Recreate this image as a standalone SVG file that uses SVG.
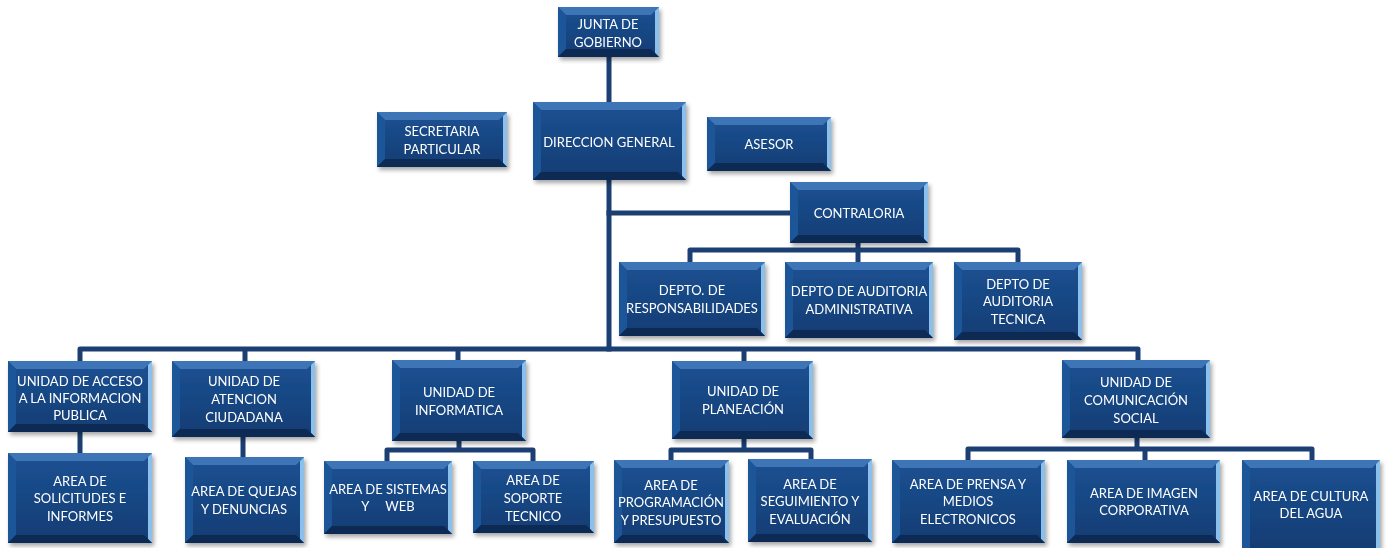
<svg xmlns="http://www.w3.org/2000/svg" width="1387" height="548" viewBox="0 0 1387 548">
<style>
.c{fill:none;stroke:#1b3f72;stroke-width:5;stroke-linejoin:round;stroke-linecap:square}
.face{fill:url(#g)}
.bt{fill:#3d74b6}
.bl{fill:#1f5498}
.br{fill:#8cc0ec}
.bb{fill:#0b2a55}
.t{font-family:Lato,"Liberation Sans",sans-serif;font-size:13px;fill:#ffffff;text-anchor:middle}
</style>
<defs>
<linearGradient id="g" x1="0" y1="0" x2="0" y2="1">
<stop offset="0" stop-color="#1d5193"/>
<stop offset="1" stop-color="#113c73"/>
</linearGradient>
<filter id="sh" x="-10%" y="-10%" width="125%" height="130%">
<feDropShadow dx="2" dy="3" stdDeviation="2" flood-color="#000" flood-opacity="0.35"/>
</filter>
</defs>
<rect width="1387" height="548" fill="#ffffff"/>
<g id="connectors">
<path class="c" d="M609 57V102"/>
<path class="c" d="M609 180V349"/>
<path class="c" d="M609 213H790"/>
<path class="c" d="M858 243V250M690 262V250H1018V262M858 250V262"/>
<path class="c" d="M80 361V349H1138V360M245 349V361M458 349V360M744 349V361"/>
<path class="c" d="M80 432V453"/>
<path class="c" d="M243 437V457"/>
<path class="c" d="M459 441V450M387 461V450H533V461"/>
<path class="c" d="M744 439V450M671 460V450H811V460"/>
<path class="c" d="M1137 438V449M968 460V449H1312V460M1145 449V460"/>
</g>
<g id="junta" filter="url(#sh)">
<rect class="face" x="558" y="7" width="101" height="50"/>
<polygon class="bt" points="558,7 659,7 651,15 566,15"/>
<polygon class="bl" points="558,7 566,15 566,49 558,57"/>
<polygon class="br" points="659,7 659,57 655,53 655,11"/>
<polygon class="bb" points="558,57 659,57 651,49 566,49"/>
<text class="t" x="608" y="29">JUNTA DE</text><text class="t" x="608" y="47">GOBIERNO</text>
</g>
<g id="secretaria" filter="url(#sh)">
<rect class="face" x="377" y="112" width="130" height="55"/>
<polygon class="bt" points="377,112 507,112 499,120 385,120"/>
<polygon class="bl" points="377,112 385,120 385,159 377,167"/>
<polygon class="br" points="507,112 507,167 503,163 503,116"/>
<polygon class="bb" points="377,167 507,167 499,159 385,159"/>
<text class="t" x="442" y="136">SECRETARIA</text><text class="t" x="442" y="154">PARTICULAR</text>
</g>
<g id="direccion" filter="url(#sh)">
<rect class="face" x="533" y="102" width="153" height="78"/>
<polygon class="bt" points="533,102 686,102 678,110 541,110"/>
<polygon class="bl" points="533,102 541,110 541,172 533,180"/>
<polygon class="br" points="686,102 686,180 682,176 682,106"/>
<polygon class="bb" points="533,180 686,180 678,172 541,172"/>
<text class="t" x="609" y="147">DIRECCION GENERAL</text>
</g>
<g id="asesor" filter="url(#sh)">
<rect class="face" x="707" y="117" width="124" height="54"/>
<polygon class="bt" points="707,117 831,117 823,125 715,125"/>
<polygon class="bl" points="707,117 715,125 715,163 707,171"/>
<polygon class="br" points="831,117 831,171 827,167 827,121"/>
<polygon class="bb" points="707,171 831,171 823,163 715,163"/>
<text class="t" x="769" y="149">ASESOR</text>
</g>
<g id="contraloria" filter="url(#sh)">
<rect class="face" x="790" y="182" width="138" height="61"/>
<polygon class="bt" points="790,182 928,182 920,190 798,190"/>
<polygon class="bl" points="790,182 798,190 798,235 790,243"/>
<polygon class="br" points="928,182 928,243 924,239 924,186"/>
<polygon class="bb" points="790,243 928,243 920,235 798,235"/>
<text class="t" x="859" y="218">CONTRALORIA</text>
</g>
<g id="depto-resp" filter="url(#sh)">
<rect class="face" x="619" y="262" width="146" height="74"/>
<polygon class="bt" points="619,262 765,262 757,270 627,270"/>
<polygon class="bl" points="619,262 627,270 627,328 619,336"/>
<polygon class="br" points="765,262 765,336 761,332 761,266"/>
<polygon class="bb" points="619,336 765,336 757,328 627,328"/>
<text class="t" x="692" y="295">DEPTO. DE</text><text class="t" x="692" y="313">RESPONSABILIDADES</text>
</g>
<g id="depto-adm" filter="url(#sh)">
<rect class="face" x="785" y="262" width="148" height="76"/>
<polygon class="bt" points="785,262 933,262 925,270 793,270"/>
<polygon class="bl" points="785,262 793,270 793,330 785,338"/>
<polygon class="br" points="933,262 933,338 929,334 929,266"/>
<polygon class="bb" points="785,338 933,338 925,330 793,330"/>
<text class="t" x="859" y="296">DEPTO DE AUDITORIA</text><text class="t" x="859" y="314">ADMINISTRATIVA</text>
</g>
<g id="depto-tec" filter="url(#sh)">
<rect class="face" x="954" y="262" width="128" height="78"/>
<polygon class="bt" points="954,262 1082,262 1074,270 962,270"/>
<polygon class="bl" points="954,262 962,270 962,332 954,340"/>
<polygon class="br" points="1082,262 1082,340 1078,336 1078,266"/>
<polygon class="bb" points="954,340 1082,340 1074,332 962,332"/>
<text class="t" x="1018" y="289">DEPTO DE</text><text class="t" x="1018" y="306">AUDITORIA</text><text class="t" x="1018" y="324">TECNICA</text>
</g>
<g id="u-acceso" filter="url(#sh)">
<rect class="face" x="8" y="361" width="144" height="71"/>
<polygon class="bt" points="8,361 152,361 144,369 16,369"/>
<polygon class="bl" points="8,361 16,369 16,424 8,432"/>
<polygon class="br" points="152,361 152,432 148,428 148,365"/>
<polygon class="bb" points="8,432 152,432 144,424 16,424"/>
<text class="t" x="80" y="386">UNIDAD DE ACCESO</text><text class="t" x="80" y="403">A LA INFORMACION</text><text class="t" x="80" y="420">PUBLICA</text>
</g>
<g id="u-atencion" filter="url(#sh)">
<rect class="face" x="172" y="361" width="143" height="76"/>
<polygon class="bt" points="172,361 315,361 307,369 180,369"/>
<polygon class="bl" points="172,361 180,369 180,429 172,437"/>
<polygon class="br" points="315,361 315,437 311,433 311,365"/>
<polygon class="bb" points="172,437 315,437 307,429 180,429"/>
<text class="t" x="244" y="386">UNIDAD DE</text><text class="t" x="244" y="404">ATENCION</text><text class="t" x="244" y="422">CIUDADANA</text>
</g>
<g id="u-informatica" filter="url(#sh)">
<rect class="face" x="392" y="360" width="134" height="81"/>
<polygon class="bt" points="392,360 526,360 518,368 400,368"/>
<polygon class="bl" points="392,360 400,368 400,433 392,441"/>
<polygon class="br" points="526,360 526,441 522,437 522,364"/>
<polygon class="bb" points="392,441 526,441 518,433 400,433"/>
<text class="t" x="459" y="397">UNIDAD DE</text><text class="t" x="459" y="415">INFORMATICA</text>
</g>
<g id="u-planeacion" filter="url(#sh)">
<rect class="face" x="672" y="361" width="141" height="78"/>
<polygon class="bt" points="672,361 813,361 805,369 680,369"/>
<polygon class="bl" points="672,361 680,369 680,431 672,439"/>
<polygon class="br" points="813,361 813,439 809,435 809,365"/>
<polygon class="bb" points="672,439 813,439 805,431 680,431"/>
<text class="t" x="743" y="396">UNIDAD DE</text><text class="t" x="743" y="414">PLANEACIÓN</text>
</g>
<g id="u-comunicacion" filter="url(#sh)">
<rect class="face" x="1062" y="360" width="148" height="78"/>
<polygon class="bt" points="1062,360 1210,360 1202,368 1070,368"/>
<polygon class="bl" points="1062,360 1070,368 1070,430 1062,438"/>
<polygon class="br" points="1210,360 1210,438 1206,434 1206,364"/>
<polygon class="bb" points="1062,438 1210,438 1202,430 1070,430"/>
<text class="t" x="1136" y="387">UNIDAD DE</text><text class="t" x="1136" y="405">COMUNICACIÓN</text><text class="t" x="1136" y="423">SOCIAL</text>
</g>
<g id="a-solicitudes" filter="url(#sh)">
<rect class="face" x="8" y="453" width="144" height="90"/>
<polygon class="bt" points="8,453 152,453 144,461 16,461"/>
<polygon class="bl" points="8,453 16,461 16,535 8,543"/>
<polygon class="br" points="152,453 152,543 148,539 148,457"/>
<polygon class="bb" points="8,543 152,543 144,535 16,535"/>
<text class="t" x="80" y="486">AREA DE</text><text class="t" x="80" y="503">SOLICITUDES E</text><text class="t" x="80" y="521">INFORMES</text>
</g>
<g id="a-quejas" filter="url(#sh)">
<rect class="face" x="185" y="457" width="119" height="86"/>
<polygon class="bt" points="185,457 304,457 296,465 193,465"/>
<polygon class="bl" points="185,457 193,465 193,535 185,543"/>
<polygon class="br" points="304,457 304,543 300,539 300,461"/>
<polygon class="bb" points="185,543 304,543 296,535 193,535"/>
<text class="t" x="244" y="496">AREA DE QUEJAS</text><text class="t" x="244" y="514">Y DENUNCIAS</text>
</g>
<g id="a-sistemas" filter="url(#sh)">
<rect class="face" x="324" y="461" width="128" height="73"/>
<polygon class="bt" points="324,461 452,461 444,469 332,469"/>
<polygon class="bl" points="324,461 332,469 332,526 324,534"/>
<polygon class="br" points="452,461 452,534 448,530 448,465"/>
<polygon class="bb" points="324,534 452,534 444,526 332,526"/>
<text class="t" x="388" y="494">AREA DE SISTEMAS</text><text class="t" x="388" y="511" xml:space="preserve">Y     WEB</text>
</g>
<g id="a-soporte" filter="url(#sh)">
<rect class="face" x="473" y="461" width="121" height="72"/>
<polygon class="bt" points="473,461 594,461 586,469 481,469"/>
<polygon class="bl" points="473,461 481,469 481,525 473,533"/>
<polygon class="br" points="594,461 594,533 590,529 590,465"/>
<polygon class="bb" points="473,533 594,533 586,525 481,525"/>
<text class="t" x="533" y="485">AREA DE</text><text class="t" x="533" y="503">SOPORTE</text><text class="t" x="533" y="521">TECNICO</text>
</g>
<g id="a-programacion" filter="url(#sh)">
<rect class="face" x="614" y="460" width="115" height="83"/>
<polygon class="bt" points="614,460 729,460 721,468 622,468"/>
<polygon class="bl" points="614,460 622,468 622,535 614,543"/>
<polygon class="br" points="729,460 729,543 725,539 725,464"/>
<polygon class="bb" points="614,543 729,543 721,535 622,535"/>
<text class="t" x="671" y="490">AREA DE</text><text class="t" x="671" y="507">PROGRAMACIÓN</text><text class="t" x="671" y="525">Y PRESUPUESTO</text>
</g>
<g id="a-seguimiento" filter="url(#sh)">
<rect class="face" x="748" y="459" width="124" height="83"/>
<polygon class="bt" points="748,459 872,459 864,467 756,467"/>
<polygon class="bl" points="748,459 756,467 756,534 748,542"/>
<polygon class="br" points="872,459 872,542 868,538 868,463"/>
<polygon class="bb" points="748,542 872,542 864,534 756,534"/>
<text class="t" x="810" y="489">AREA DE</text><text class="t" x="810" y="506">SEGUIMIENTO Y</text><text class="t" x="810" y="524">EVALUACIÓN</text>
</g>
<g id="a-prensa" filter="url(#sh)">
<rect class="face" x="892" y="460" width="153" height="83"/>
<polygon class="bt" points="892,460 1045,460 1037,468 900,468"/>
<polygon class="bl" points="892,460 900,468 900,535 892,543"/>
<polygon class="br" points="1045,460 1045,543 1041,539 1041,464"/>
<polygon class="bb" points="892,543 1045,543 1037,535 900,535"/>
<text class="t" x="968" y="489">AREA DE PRENSA Y</text><text class="t" x="968" y="506">MEDIOS</text><text class="t" x="968" y="524">ELECTRONICOS</text>
</g>
<g id="a-imagen" filter="url(#sh)">
<rect class="face" x="1067" y="460" width="153" height="83"/>
<polygon class="bt" points="1067,460 1220,460 1212,468 1075,468"/>
<polygon class="bl" points="1067,460 1075,468 1075,535 1067,543"/>
<polygon class="br" points="1220,460 1220,543 1216,539 1216,464"/>
<polygon class="bb" points="1067,543 1220,543 1212,535 1075,535"/>
<text class="t" x="1144" y="498">AREA DE IMAGEN</text><text class="t" x="1144" y="515">CORPORATIVA</text>
</g>
<g id="a-cultura" filter="url(#sh)">
<rect class="face" x="1242" y="460" width="138" height="90"/>
<polygon class="bt" points="1242,460 1380,460 1372,468 1250,468"/>
<polygon class="bl" points="1242,460 1250,468 1250,550 1242,550"/>
<polygon class="br" points="1380,460 1380,550 1376,550 1376,464"/>
<text class="t" x="1311" y="501">AREA DE CULTURA</text><text class="t" x="1311" y="518">DEL AGUA</text>
</g>
</svg>
